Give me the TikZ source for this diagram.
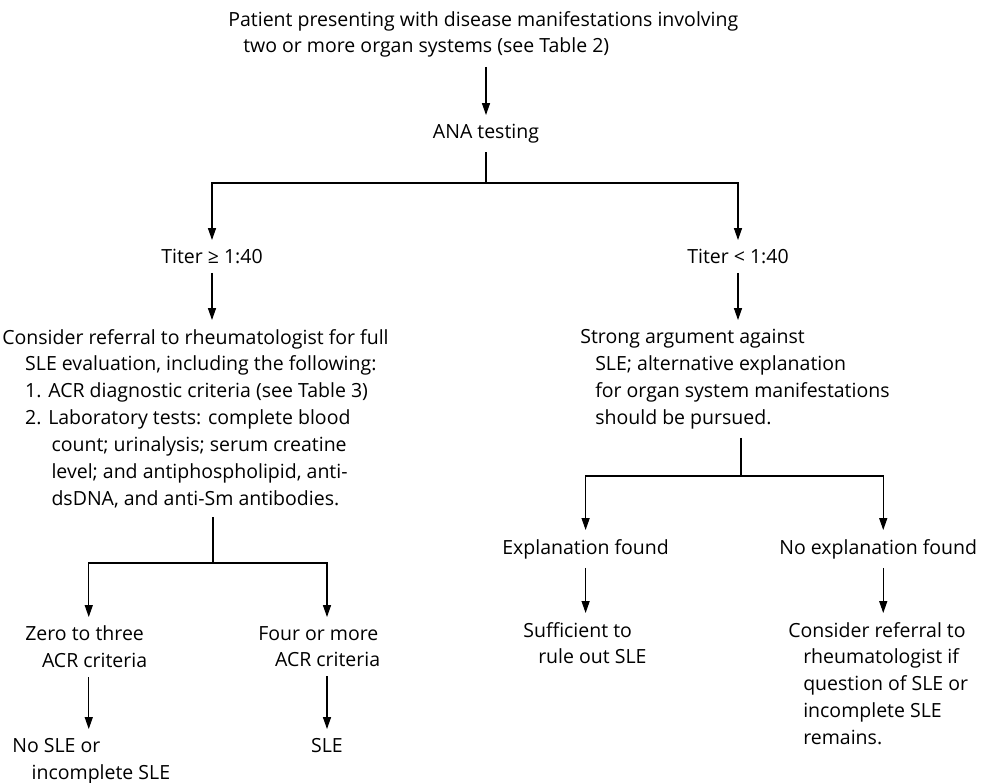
\documentclass[tikz,border=0pt]{standalone}
\usepackage{fontspec}
\setmainfont{Open Sans}
\usetikzlibrary{
    arrows.meta,
    positioning,
    calc
}
\tikzstyle{decision} = [
    inner xsep=0pt,
    inner ysep=5pt,
    align=left,
    font=\fontsize{11.1}{15.3}\selectfont
]
\tikzstyle{flow} = [
    -{Triangle[width=4.6pt,length=6.8pt]},
    line width=0.6pt
]
\tikzstyle{branch} = [
    line width=0.6pt
]
\newcommand{\ind}[1][8.5pt]{\hspace*{#1}}

\begin{document}
\begin{tikzpicture}[x=0.02cm, y=-0.02cm]
    \useasboundingbox (0,0) rectangle (981,782);

    % Entry and ANA test
    \node[decision, anchor=north west] (patient) at (228,2) {Patient presenting with disease manifestations involving\\\ind two or more organ systems (see Table 2)};
    \node[decision, anchor=north] (ana) at (486,115) {ANA testing};
    \node[decision, anchor=north] (titerhigh) at (212,240) {Titer ≥ 1:40};
    \node[decision, anchor=north] (titerlow) at (738,240) {Titer < 1:40};

    % Positive titer branch
    \node[decision, anchor=north west] (referfull) at (2,320) {Consider referral to rheumatologist for full\\\ind[13pt]SLE evaluation, including the following:\\\ind[13pt]1. ACR diagnostic criteria (see Table 3)\\\ind[13pt]2. Laboratory tests: complete blood\\\ind[28pt]count; urinalysis; serum creatine\\\ind[28pt]level; and antiphospholipid, anti-\\\ind[28pt]dsDNA, and anti-Sm antibodies.};
    \node[decision, anchor=north west] (fewcrit) at (25,617) {Zero to three\\\ind[9.5pt]ACR criteria};
    \node[decision, anchor=north west] (manycrit) at (258,617) {Four or more\\\ind[9.5pt]ACR criteria};
    \node[decision, anchor=north west] (nosle) at (12,729) {No SLE or\\\ind[11pt]incomplete SLE};
    \node[decision, anchor=north] (sle) at (327,729) {SLE};

    % Negative titer branch
    \node[decision, anchor=north west] (against) at (580,320) {Strong argument against\\\ind SLE; alternative explanation\\\ind for organ system manifestations\\\ind should be pursued.};
    \node[decision, anchor=north west] (found) at (502,530) {Explanation found};
    \node[decision, anchor=north west] (notfound) at (779,530) {No explanation found};
    \node[decision, anchor=north west] (ruleout) at (523,613) {Sufficient to\\\ind rule out SLE};
    \node[decision, anchor=north west] (referif) at (788,613) {Consider referral to\\\ind rheumatologist if\\\ind question of SLE or\\\ind incomplete SLE\\\ind remains.};

    % Forks
    \coordinate (forkana) at (486,183);
    \coordinate (forkhigh) at (213,563);
    \coordinate (forklow) at (741,476);

    % Arrows
    \draw[flow] (patient.south -| ana.north) -- (ana.north);
    \draw[branch] (ana.south) -- (forkana);
    \draw[flow] (forkana) -| (titerhigh.north);
    \draw[flow] (forkana) -| (titerlow.north);
    \draw[flow] (titerhigh.south) -- (titerhigh.south |- referfull.north);
    \draw[flow] (titerlow.south) -- (titerlow.south |- against.north);
    \draw[branch] (referfull.south -| forkhigh) -- (forkhigh);
    \draw[flow] (forkhigh) -| ([xshift=0.05cm]fewcrit.north);
    \draw[flow] (forkhigh) -| (sle.north |- manycrit.north);
    \draw[flow] ([xshift=0.05cm]fewcrit.south) -- ([xshift=0.05cm]fewcrit.south |- nosle.north);
    \draw[flow] (sle.north |- manycrit.south) -- (sle.north);
    \draw[branch] (against.south -| forklow) -- (forklow);
    \draw[flow] (forklow) -| (found.north);
    \draw[flow] (forklow) -| ([xshift=0.1cm]notfound.north);
    \draw[flow] (found.south) -- (found.south |- ruleout.north);
    \draw[flow] ([xshift=0.1cm]notfound.south) -- ([xshift=0.1cm]notfound.south |- referif.north);
\end{tikzpicture}
\end{document}
